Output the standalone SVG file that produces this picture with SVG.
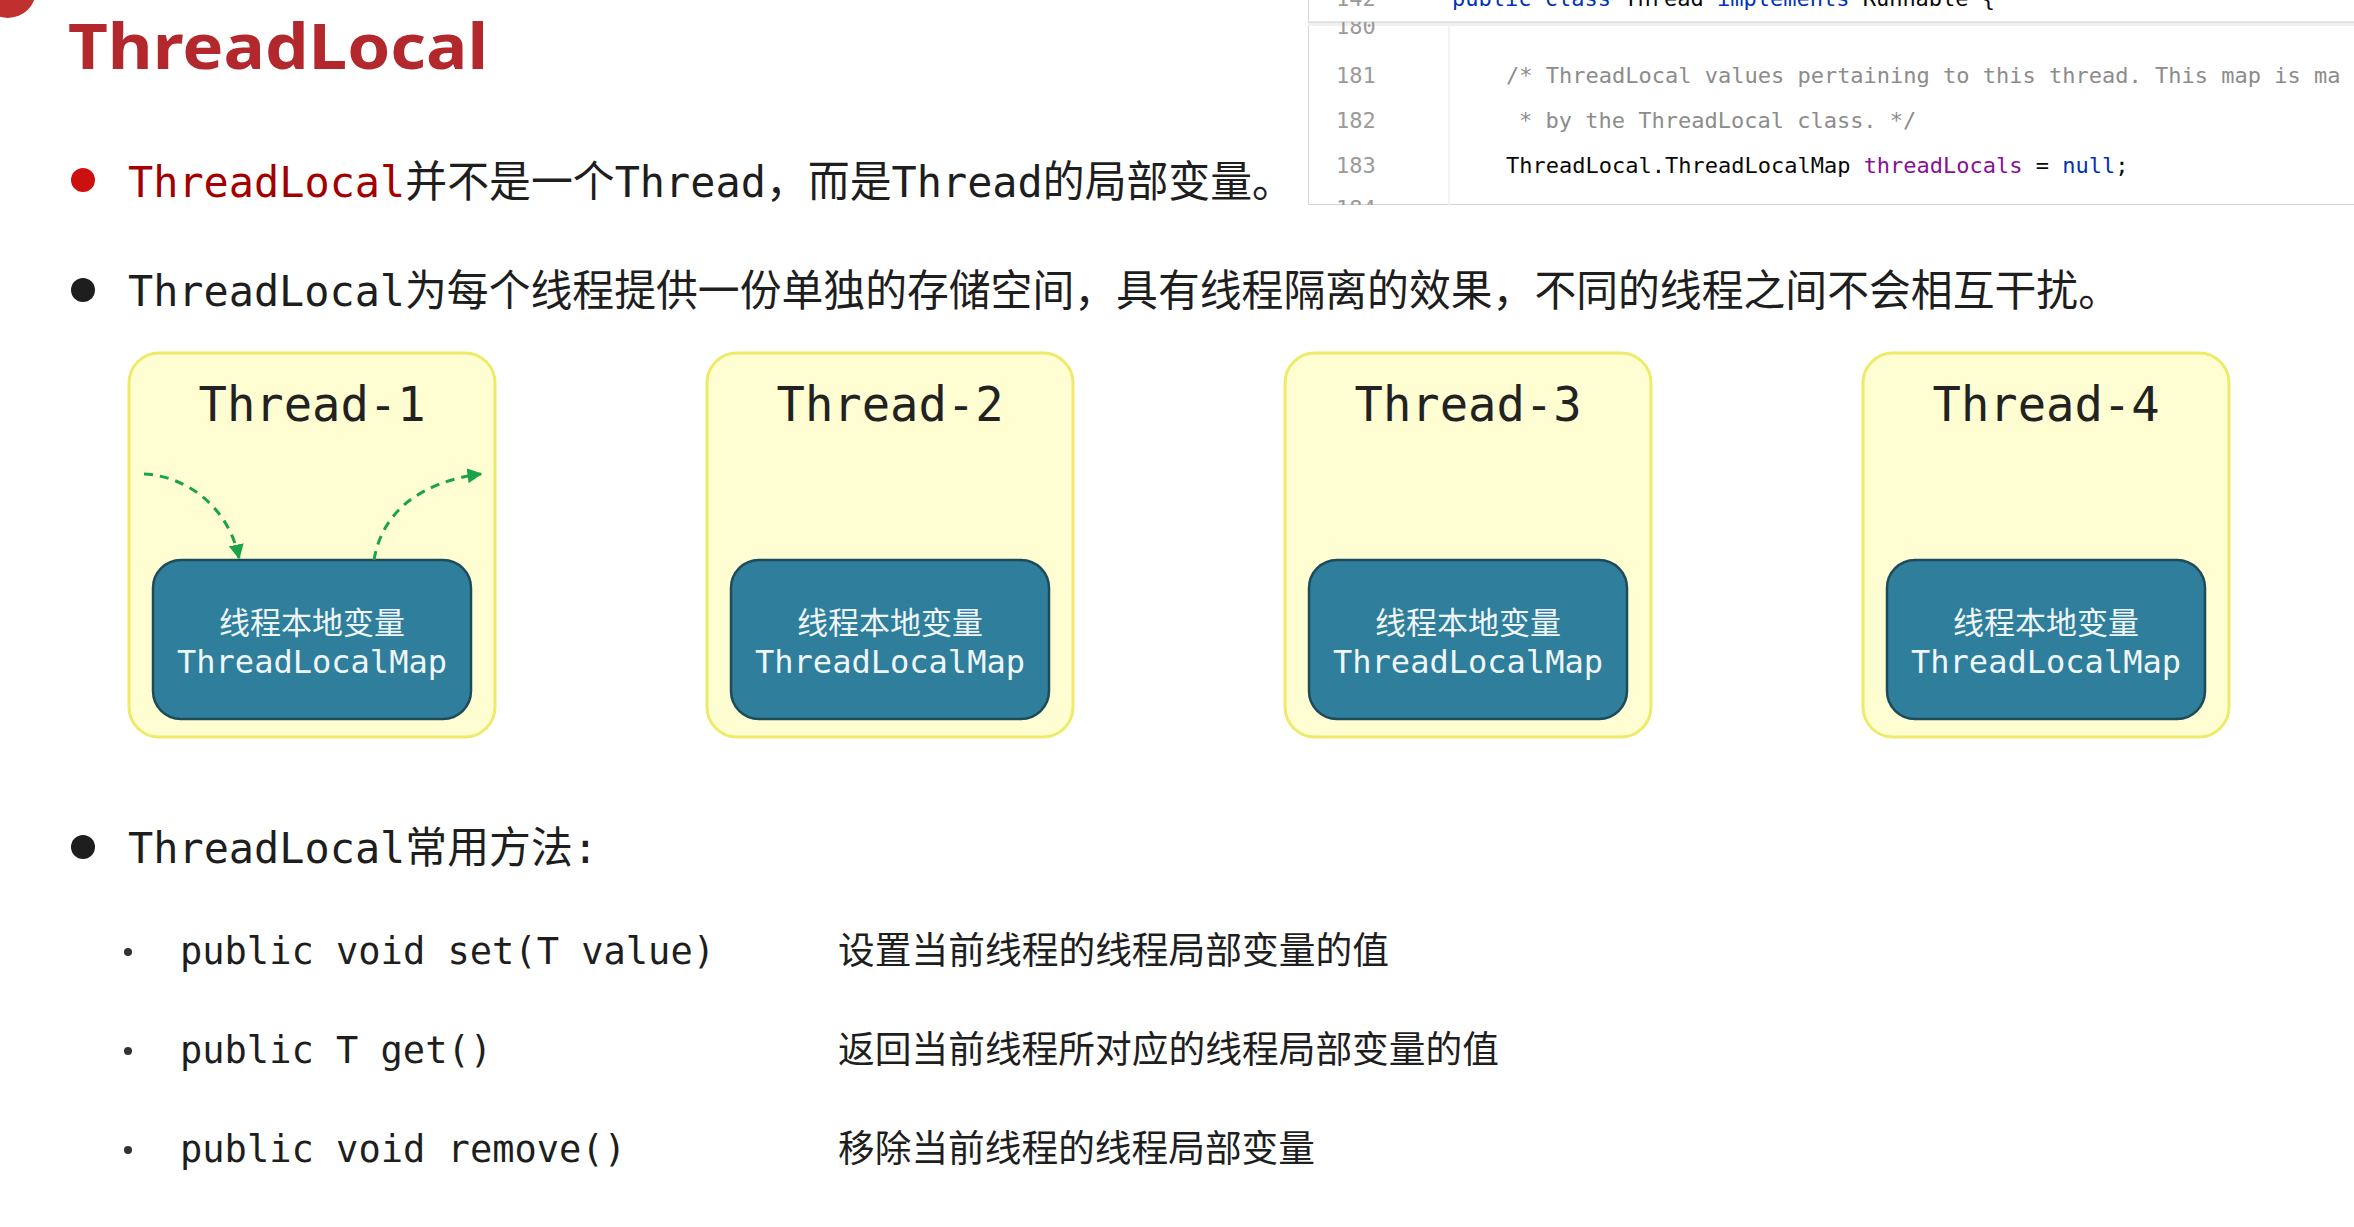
<svg xmlns="http://www.w3.org/2000/svg" width="2354" height="1227" viewBox="0 0 2354 1227">
<style>
.mono{font-family:"DejaVu Sans Mono","Noto Sans CJK SC",monospace}
.cjk{font-family:"Noto Sans CJK SC",sans-serif}
.dark{fill:#1e1e1e}
.outer{fill:#fffdd2;stroke:#eeea6a;stroke-width:3}
.inner{fill:#2f7e9b;stroke:#1d4b5a;stroke-width:2.5}
.ttl{font-size:48px;fill:#222;text-anchor:middle}
.in1{font-size:31px;fill:#eef6f9;text-anchor:middle}
.in2{font-size:32px;fill:#eef6f9;text-anchor:middle}
.code{font-family:"DejaVu Sans Mono","Liberation Mono",monospace;font-size:22px}
.ln{fill:#9a9a9a}
.cm{fill:#8c8c8c}
.kw{fill:#0033b3}
.pu{fill:#871094}
.fl{fill:none;stroke:#1aa34a;stroke-width:3;stroke-dasharray:9 7}
</style>
<defs>
<marker id="ga" viewBox="0 0 10 10" refX="9" refY="5" markerWidth="5" markerHeight="5" orient="auto" markerUnits="strokeWidth">
<path d="M0,0 L10,5 L0,10 z" fill="#1aa34a"/>
</marker>
<clipPath id="cp"><rect x="1308" y="0" width="1046" height="205"/></clipPath>
<clipPath id="cpb"><rect x="1308" y="22" width="1046" height="183"/></clipPath>
<filter id="glow" x="-5%" y="-5%" width="110%" height="110%"><feGaussianBlur stdDeviation="2"/></filter>
</defs>
<rect width="2354" height="1227" fill="#ffffff"/>
<circle cx="8" cy="-10" r="28" fill="#c0302f"/>
<text x="68" y="69" font-family="Noto Sans, sans-serif" font-weight="700" font-size="62" fill="#b3282d" textLength="420" lengthAdjust="spacingAndGlyphs">ThreadLocal</text>

<g id="code-panel" clip-path="url(#cp)">
<rect x="1308" y="-2" width="1050" height="207" fill="#ffffff" stroke="#d6d6d6" stroke-width="2"/>
<line x1="1449" y1="22" x2="1449" y2="205" stroke="#efefef" stroke-width="1.5"/>
<text class="code ln" x="1336" y="6">142</text>
<text class="code" x="1452" y="6"><tspan class="kw">public class</tspan> <tspan fill="#080808">Thread</tspan> <tspan class="kw">implements</tspan> <tspan fill="#080808">Runnable {</tspan></text>
<rect x="1308" y="22" width="1046" height="4" fill="#f0f0f0"/>
<line x1="1308" y1="22" x2="2354" y2="22" stroke="#dcdcdc" stroke-width="1.5"/>
<g clip-path="url(#cpb)">
<text class="code ln" x="1336" y="34">180</text>
<text class="code ln" x="1336" y="216">184</text>
</g>
<text class="code ln" x="1336" y="83">181</text>
<text class="code ln" x="1336" y="128">182</text>
<text class="code ln" x="1336" y="173">183</text>
<text class="code cm" x="1506" y="83">/* ThreadLocal values pertaining to this thread. This map is ma</text>
<text class="code cm" x="1519" y="128">* by the ThreadLocal class. */</text>
<text class="code" x="1506" y="173" fill="#080808">ThreadLocal.ThreadLocalMap <tspan class="pu">threadLocals</tspan> = <tspan class="kw">null</tspan>;</text>
</g>

<g id="bullet-1">
<circle cx="83" cy="180" r="12" fill="#cc1010"/>
<text class="mono dark" x="128" y="197" font-size="43" textLength="1166" lengthAdjust="spacingAndGlyphs"><tspan fill="#a30000">ThreadLocal</tspan>并不是一个Thread，而是Thread的局部变量。</text>
</g>
<g id="bullet-2">
<circle cx="83" cy="290" r="12" fill="#1e1e1e"/>
<text class="mono dark" x="128" y="306" font-size="43" textLength="1992" lengthAdjust="spacingAndGlyphs">ThreadLocal为每个线程提供一份单独的存储空间，具有线程隔离的效果，不同的线程之间不会相互干扰。</text>
</g>

<g id="thread-1">
<rect class="outer" x="129" y="353" width="366" height="384" rx="30"/>
<text class="mono ttl" x="312" y="421" textLength="227" lengthAdjust="spacingAndGlyphs">Thread-1</text>
<rect class="inner" x="153" y="560" width="318" height="159" rx="28"/>
<text class="cjk in1" x="312" y="634">线程本地变量</text>
<text class="mono in2" x="312" y="673" textLength="270" lengthAdjust="spacingAndGlyphs">ThreadLocalMap</text>
</g>
<g id="thread-2">
<rect class="outer" x="707" y="353" width="366" height="384" rx="30"/>
<text class="mono ttl" x="890" y="421" textLength="227" lengthAdjust="spacingAndGlyphs">Thread-2</text>
<rect class="inner" x="731" y="560" width="318" height="159" rx="28"/>
<text class="cjk in1" x="890" y="634">线程本地变量</text>
<text class="mono in2" x="890" y="673" textLength="270" lengthAdjust="spacingAndGlyphs">ThreadLocalMap</text>
</g>
<g id="thread-3">
<rect class="outer" x="1285" y="353" width="366" height="384" rx="30"/>
<text class="mono ttl" x="1468" y="421" textLength="227" lengthAdjust="spacingAndGlyphs">Thread-3</text>
<rect class="inner" x="1309" y="560" width="318" height="159" rx="28"/>
<text class="cjk in1" x="1468" y="634">线程本地变量</text>
<text class="mono in2" x="1468" y="673" textLength="270" lengthAdjust="spacingAndGlyphs">ThreadLocalMap</text>
</g>
<g id="thread-4">
<rect class="outer" x="1863" y="353" width="366" height="384" rx="30"/>
<text class="mono ttl" x="2046" y="421" textLength="227" lengthAdjust="spacingAndGlyphs">Thread-4</text>
<rect class="inner" x="1887" y="560" width="318" height="159" rx="28"/>
<text class="cjk in1" x="2046" y="634">线程本地变量</text>
<text class="mono in2" x="2046" y="673" textLength="270" lengthAdjust="spacingAndGlyphs">ThreadLocalMap</text>
</g>

<g id="connectors">
<path class="fl" d="M144,474 C185,476 228,505 239,558" marker-end="url(#ga)"/>
<path class="fl" d="M374,560 C382,512 420,482 481,474" marker-end="url(#ga)"/>
</g>

<g id="bullet-3">
<circle cx="83" cy="847" r="12" fill="#1e1e1e"/>
<text class="mono dark" x="128" y="863" font-size="43" textLength="470" lengthAdjust="spacingAndGlyphs">ThreadLocal常用方法:</text>
</g>
<g id="method-set">
<circle cx="128" cy="952" r="4" fill="#333"/>
<text class="mono dark" x="180" y="964" font-size="37" textLength="535" lengthAdjust="spacingAndGlyphs">public void set(T value)</text>
<text class="cjk dark" x="838" y="964" font-size="37" textLength="551" lengthAdjust="spacingAndGlyphs">设置当前线程的线程局部变量的值</text>
</g>
<g id="method-get">
<circle cx="128" cy="1051" r="4" fill="#333"/>
<text class="mono dark" x="180" y="1063" font-size="37" textLength="312" lengthAdjust="spacingAndGlyphs">public T get()</text>
<text class="cjk dark" x="838" y="1063" font-size="37" textLength="661" lengthAdjust="spacingAndGlyphs">返回当前线程所对应的线程局部变量的值</text>
</g>
<g id="method-remove">
<circle cx="128" cy="1150" r="4" fill="#333"/>
<text class="mono dark" x="180" y="1162" font-size="37" textLength="446" lengthAdjust="spacingAndGlyphs">public void remove()</text>
<text class="cjk dark" x="838" y="1162" font-size="37" textLength="477" lengthAdjust="spacingAndGlyphs">移除当前线程的线程局部变量</text>
</g>
</svg>
